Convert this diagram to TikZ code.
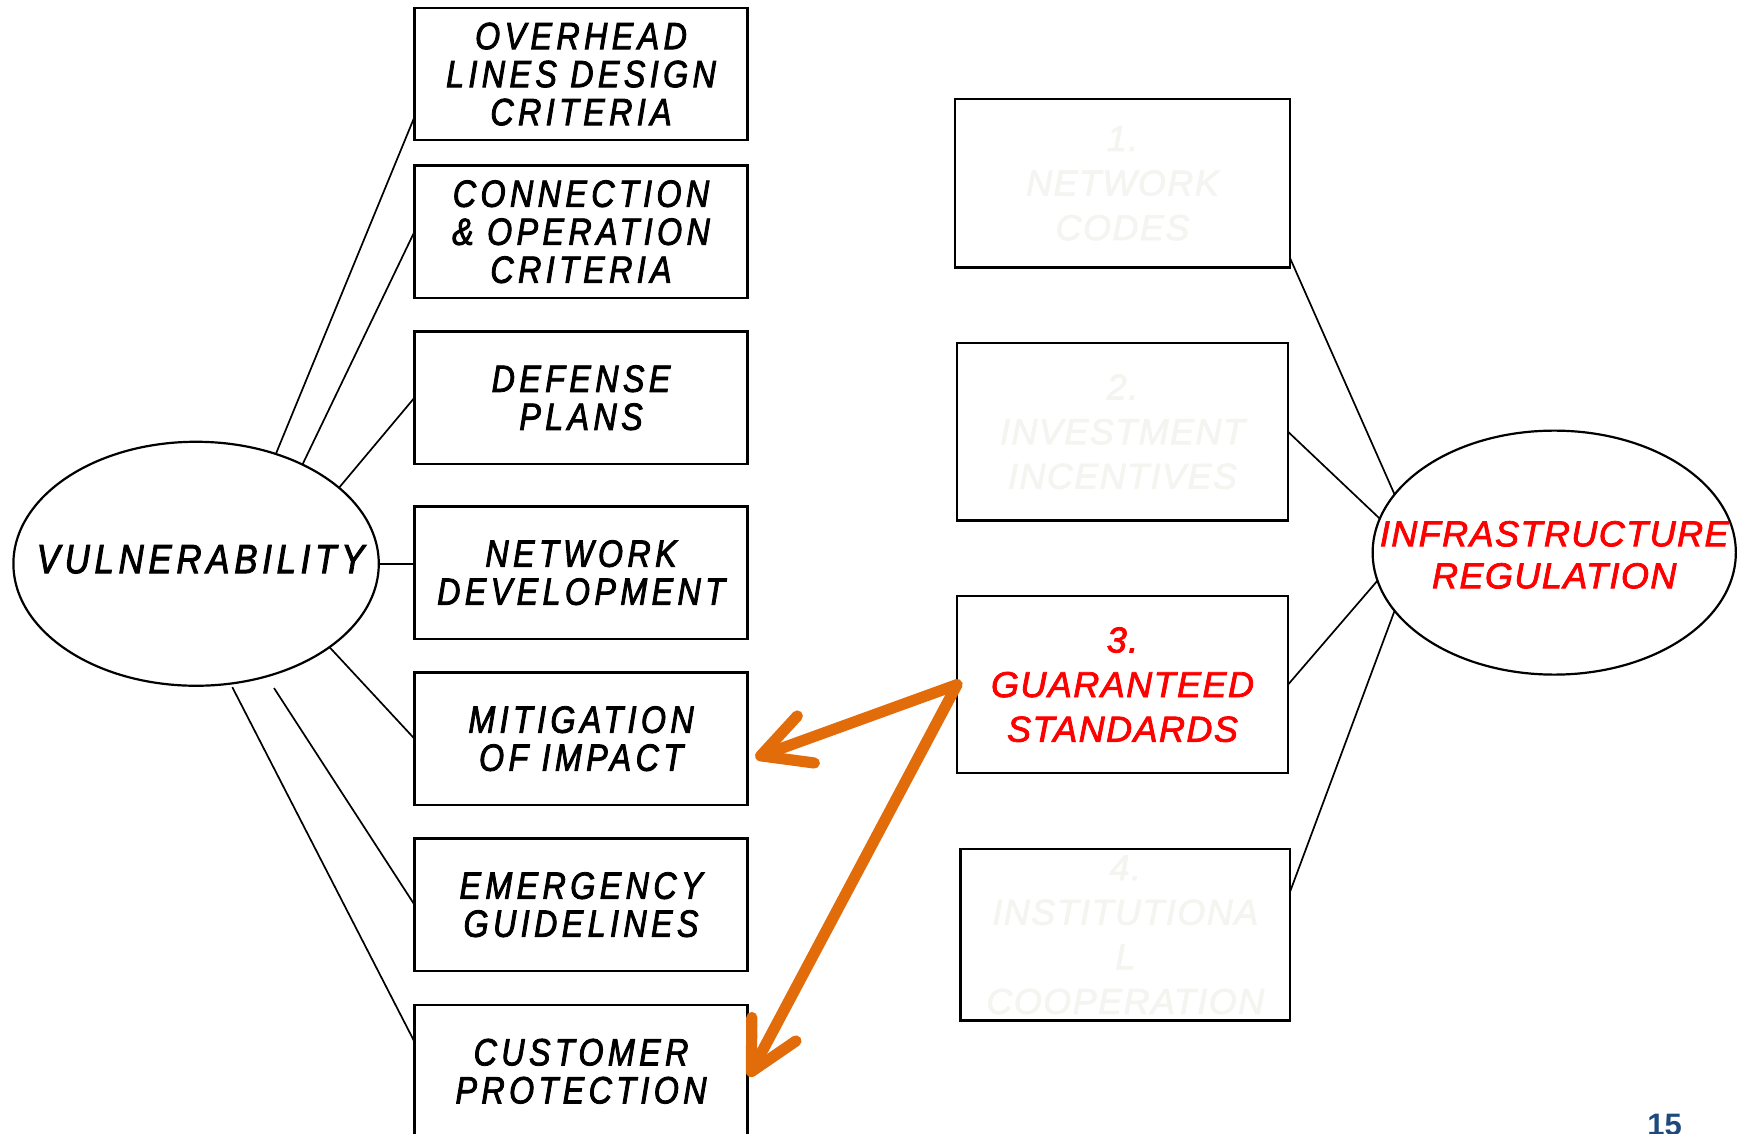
\documentclass[tikz,border=0pt]{standalone}
\usepackage{fontspec}
\setmainfont{Liberation Sans}
\newfontfamily\narrowit{Liberation Sans}[FakeStretch=0.85,LetterSpace=11.5,FakeBold=2.2]
\newfontfamily\spacedit{Liberation Sans}[LetterSpace=4,FakeBold=2.2]
\usetikzlibrary{arrows.meta,shapes.geometric,calc}
\definecolor{arroworange}{RGB}{227,108,10}
\definecolor{ghost}{RGB}{244,244,240}
\definecolor{pageblue}{RGB}{31,73,125}

\begin{document}
\begin{tikzpicture}[x=0.5571pt,y=-0.5571pt,
  lbox/.style={draw,line width=1.2pt,inner sep=0pt,outer sep=0pt,
    minimum width=166.6pt,minimum height=66.2pt,align=center,
    font=\narrowit\itshape\fontsize{19}{19}\selectfont},
  rbox/.style={draw,line width=1.2pt,inner sep=0pt,outer sep=0pt,
    align=center,text=ghost,
    font=\spacedit\itshape\fontsize{18}{22.3}\selectfont},
  hub/.style={draw,ellipse,line width=1.1pt,inner sep=0pt,outer sep=0pt},
  link/.style={line width=0.85pt},
  push/.style={draw=arroworange,line width=5.6pt,line cap=round,
    -{Straight Barb[length=24pt,width=25pt,line cap=round,line join=round]}}]

\clip (0,0) rectangle (1568,1017);

% measures of vulnerability
\node[lbox] (ohl) at (521.5,66.5) {OVERHEAD\\LINES DESIGN\\CRITERIA};
\node[lbox] (con) at (521.5,208) {CONNECTION\\\&{} OPERATION\\CRITERIA};
\node[lbox] (def) at (521.5,357) {DEFENSE\\PLANS};
\node[lbox] (net) at (521.5,514) {NETWORK\\DEVELOPMENT};
\node[lbox] (mit) at (521.5,663) {MITIGATION\\OF IMPACT};
\node[lbox] (emg) at (521.5,812) {EMERGENCY\\GUIDELINES};
\node[lbox] (cus) at (521.5,961.5) {CUSTOMER\\PROTECTION};

% central hubs
\node[hub,minimum width=182.7pt,minimum height=122pt] (vul) at (176,506) {};
\node[font=\narrowit\itshape\fontsize{20.5}{20.5}\selectfont,inner sep=0pt] (vultext) at (180,502) {VULNERABILITY};
\node[hub,minimum width=181.6pt,minimum height=122pt] (inf) at (1395,496) {};
\node[text=red,align=center,inner sep=0pt,
  font=\spacedit\itshape\fontsize{18}{21}\selectfont] (inftext) at (1395,498) {INFRASTRUCTURE\\REGULATION};

% regulation instruments
\node[rbox,minimum width=167.7pt,minimum height=84.1pt] (r1) at (1007.5,164.5) {1.\\NETWORK\\CODES};
\node[rbox,minimum width=165.5pt,minimum height=88.6pt] (r2) at (1007.5,387.5) {2.\\INVESTMENT\\INCENTIVES};
\node[rbox,minimum width=165.5pt,minimum height=88.6pt,text=red] (r3) at (1007.5,614.5) {3.\\GUARANTEED\\STANDARDS};
\node[rbox,minimum width=164.9pt,minimum height=85.8pt] (r4) at (1010,839) {4.\\INSTITUTIONA\\L\\COOPERATION};

% spokes of the vulnerability hub
\draw[link] (vul.54.7) -- ($(ohl.north west)!0.824!(ohl.south west)$);
\draw[link] (vul.43.2) -- (con.west);
\draw[link] (vul.28.3) -- (def.west);
\draw[link] (vul.east) -- (vul.east -| net.west);
\draw[link] (vul.-32.7) -- (mit.west);
\draw[link,shorten <=7pt] (vul.-58) -- (emg.west);
\draw[link,shorten <=2pt] (vul.-74.5) -- ($(cus.north west)!0.277!(cus.south west)$);

% spokes of the regulation hub
\draw[link] ($(r1.north east)!0.947!(r1.south east)$) -- (inf.160.5);
\draw[link] (r2.east) -- (inf.169.6);
\draw[link] (r3.east) -- (inf.189.4);
\draw[link] ($(r4.north east)!0.247!(r4.south east)$) -- (inf.200.2);

% guaranteed standards act on two measures
\draw[push] (r3.west) -- ($(mit.north east)!0.644!(mit.south east)+(7,0)$);
\draw[push] (r3.west) -- ($(cus.north east)!0.54!(cus.south east)+(1,0)$);

% page number
\node[font=\bfseries\fontsize{15.5}{15.5}\selectfont,text=pageblue,anchor=base,inner sep=0pt] (pg) at (1494,1019) {15};
\end{tikzpicture}
\end{document}
